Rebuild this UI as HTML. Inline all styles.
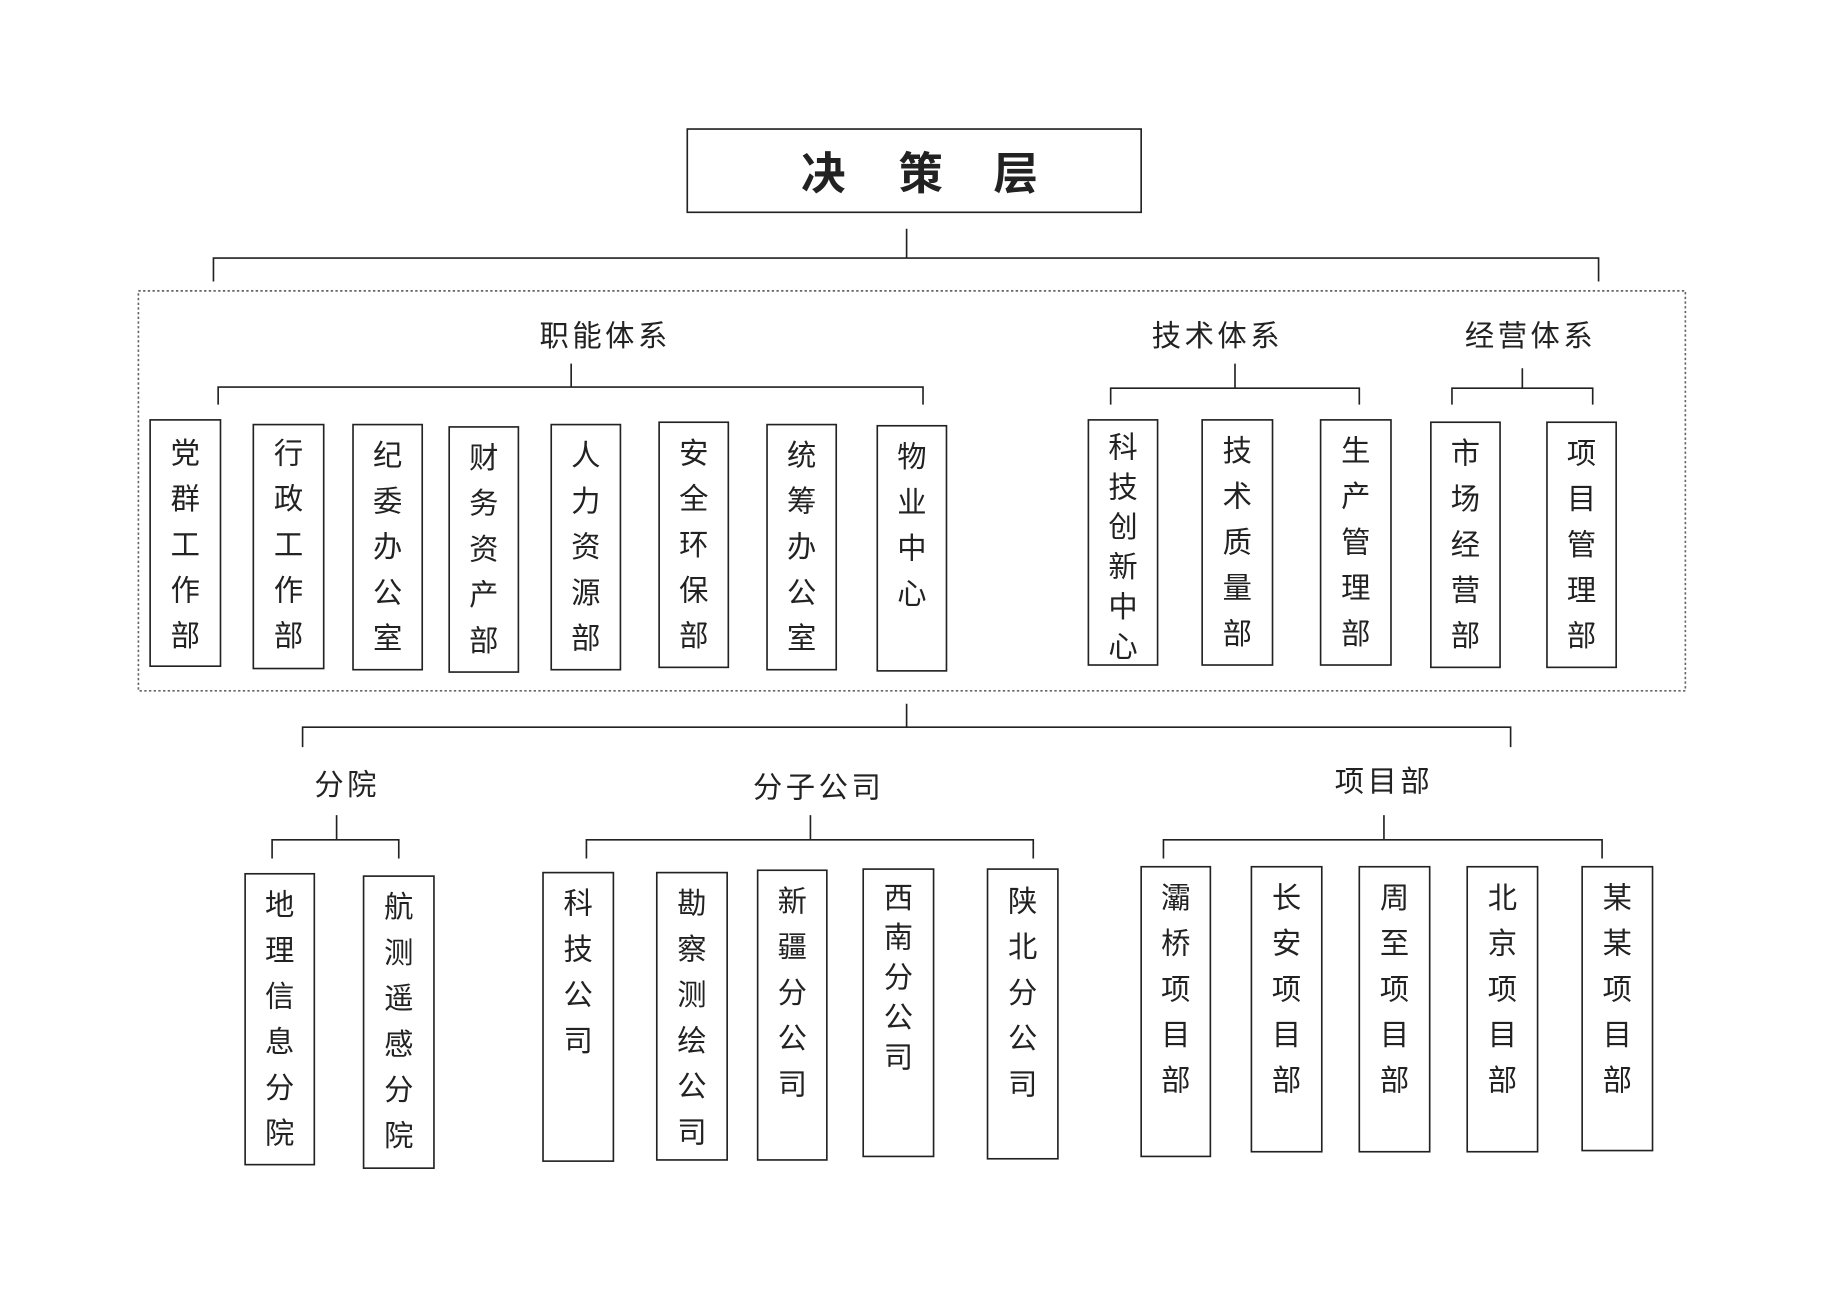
<!DOCTYPE html>
<html><head><meta charset="utf-8"><style>
html,body{margin:0;padding:0;background:#fff;width:1839px;height:1300px;overflow:hidden}
svg{display:block}
text{font-family:"Liberation Sans","Noto Sans CJK SC",sans-serif;fill:#222}
</style></head><body>
<svg id="s" width="1839" height="1300" viewBox="0 0 1568 1108.4" xmlns="http://www.w3.org/2000/svg">
<g fill="none" stroke="#222" stroke-width="1.4">
<rect x="586" y="110" width="387" height="71"/>
<rect x="118" y="248" width="1319" height="341" stroke-dasharray="2,2" stroke="#666"/>
<path d="M773 195 V220 M182 240 V220 H1363 V240"/>
<path d="M487 310 V330 M186 345 V330 H787 V345"/>
<path d="M1053 310 V331 M947 345 V331 H1159 V345"/>
<path d="M1298 314 V331 M1238 345 V331 H1358 V345"/>
<path d="M773 600 V620 M258 637 V620 H1288 V637"/>
<path d="M287 695 V716 M232 732 V716 H340 V732"/>
<path d="M691 695 V716 M500 732 V716 H881 V732"/>
<path d="M1180 695 V716 M992 732 V716 H1366 V732"/>
</g>
<text x="702" y="161" font-size="38" font-weight="bold" text-anchor="middle">决</text>
<text x="785" y="161" font-size="38" font-weight="bold" text-anchor="middle">策</text>
<text x="866" y="161" font-size="38" font-weight="bold" text-anchor="middle">层</text>
<text x="516" y="295" font-size="25" text-anchor="middle" letter-spacing="3">职能体系</text>
<text x="1038" y="295" font-size="25" text-anchor="middle" letter-spacing="3">技术体系</text>
<text x="1305" y="295" font-size="25" text-anchor="middle" letter-spacing="3">经营体系</text>
<text x="296" y="678" font-size="25" text-anchor="middle" letter-spacing="3">分院</text>
<text x="698" y="680" font-size="25" text-anchor="middle" letter-spacing="3">分子公司</text>
<text x="1180" y="675" font-size="25" text-anchor="middle" letter-spacing="3">项目部</text>
<g id="boxes"></g>
</svg>
<script>
var B=[
[128,188,358,568,"党群工作部",385,39],
[216,276,362,570,"行政工作部",385,39],
[301,360,362,571,"纪委办公室",387,39],
[383,442,364,573,"财务资产部",389,39],
[470,529,362,571,"人力资源部",387,39],
[562,621,360,569,"安全环保部",385,39],
[654,713,362,571,"统筹办公室",387,39],
[748,807,363,572,"物业中心",388,39],
[928,987,358,567,"科技创新中心",380,34],
[1025,1085,358,567,"技术质量部",383,39],
[1126,1186,358,567,"生产管理部",383,39],
[1220,1279,360,569,"市场经营部",385,39],
[1319,1378,360,569,"项目管理部",385,39],
[209,268,745,993,"地理信息分院",770,39],
[310,370,747,996,"航测遥感分院",772,39],
[463,523,744,990,"科技公司",769,39],
[560,620,744,989,"勘察测绘公司",769,39],
[646,705,742,989,"新疆分公司",767,39],
[736,796,741,986,"西南分公司",764,34],
[842,902,741,988,"陕北分公司",767,39],
[973,1032,739,986,"灞桥项目部",764,39],
[1067,1127,739,982,"长安项目部",764,39],
[1159,1219,739,982,"周至项目部",764,39],
[1251,1311,739,982,"北京项目部",764,39],
[1349,1409,739,981,"某某项目部",764,39]];
var h="";
B.forEach(function(b){
h+='<rect x="'+b[0]+'" y="'+b[2]+'" width="'+(b[1]-b[0])+'" height="'+(b[3]-b[2])+'" fill="none" stroke="#222" stroke-width="1.4"/>';
var cx=(b[0]+b[1])/2;
for(var i=0;i<b[4].length;i++){
h+='<text x="'+cx+'" y="'+(b[5]+i*b[6]+10)+'" font-size="25" text-anchor="middle">'+b[4][i]+'</text>';
}});
document.getElementById("boxes").innerHTML=h;
</script>
</body></html>
